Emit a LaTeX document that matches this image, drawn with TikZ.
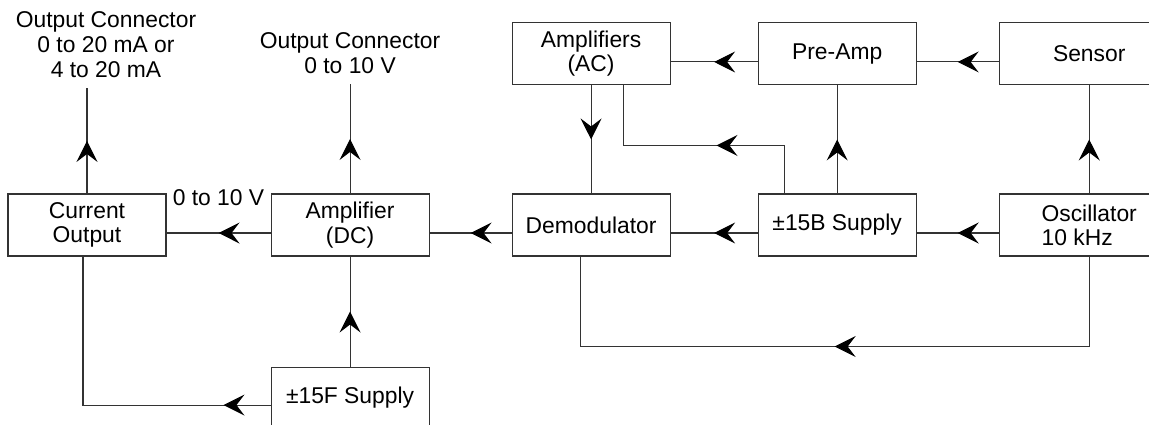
\documentclass[tikz,border=0pt]{standalone}
\usepackage{fontspec}
\setmainfont{Liberation Sans}
\usetikzlibrary{arrows.meta, positioning, decorations.markings}

\begin{document}
\begin{tikzpicture}[
    node distance=2.16cm and 1.64cm,
    block/.style={draw=black!80, rectangle, minimum height=1.24cm, minimum width=3.16cm, inner sep=0pt, align=center, line width=0.6pt, font=\fontsize{13}{13.8}\selectfont},
    wideblock/.style={block, minimum width=3.6cm},
    lbl/.style={inner sep=0pt, outer ysep=0.22cm, align=center, font=\fontsize{13}{14.2}\selectfont},
    tag/.style={inner sep=0pt, font=\fontsize{13}{13.8}\selectfont},
    flow/.style={line width=0.6pt, draw=black!80, decoration={markings, mark=at position #1 with {\arrow[black]{Stealth[length=0.42cm, width=0.42cm, inset=0.16cm]}}}, postaction={decorate}},
    flow/.default=0.5
]
    \useasboundingbox (-1.74,-3.98) rectangle (21.24,4.5);

    % Nodes
    \node (cur) [block] at (0,0) {Current\\Output};
    \node (ampdc) [block, right=2.08cm of cur] {Amplifier\\(DC)};
    \node (demod) [block, right=of ampdc] {Demodulator};
    \node (bsup) [block, right=1.74cm of demod] {±15B Supply};
    \node (osc) [wideblock, right=of bsup, align=left] {Oscillator\\10 kHz};
    \node (ampac) [block, above=of demod] {Amplifiers\\(AC)};
    \node (preamp) [block, above=of bsup] {Pre-Amp};
    \node (sensor) [wideblock, above=of osc] {Sensor};
    \node (fsup) [block, below=2.2cm of ampdc] {±15F Supply};
    \node (outI) [lbl, above=2.1cm of cur, xshift=0.38cm] {Output Connector\\0 to 20 mA or\\4 to 20 mA};
    \node (outV) [lbl, above=2.18cm of ampdc] {Output Connector\\0 to 10 V};

    % Connectors
    \draw [flow] ([yshift=-0.16cm]sensor.west) -- ([yshift=-0.16cm]preamp.east);
    \draw [flow] ([yshift=-0.16cm]preamp.west) -- ([yshift=-0.16cm]ampac.east);
    \draw [flow] (ampac) -- (demod);
    \draw [flow] (osc) -- (sensor);
    \draw [flow] (bsup) -- (preamp);
    \draw [flow=0.43] ([xshift=-1.06cm]bsup.north) -- ++(0,0.96) -| ([xshift=0.64cm]ampac.south);
    \draw [flow] ([yshift=-0.16cm]osc.west) -- ([yshift=-0.16cm]bsup.east);
    \draw [flow] ([yshift=-0.16cm]bsup.west) -- ([yshift=-0.16cm]demod.east);
    \draw [flow] ([yshift=-0.16cm]demod.west) -- ([yshift=-0.16cm]ampdc.east);
    \draw [flow] ([yshift=-0.16cm]ampdc.west) -- node [tag, above=0.54cm] {0 to 10 V} ([yshift=-0.16cm]cur.east);
    \draw [flow] (cur) -- (cur |- outI.south);
    \draw [flow] (ampdc) -- (outV);
    \draw [flow] (fsup) -- (ampdc);
    \draw [flow=0.14] ([yshift=-0.14cm]fsup.west) -| ([xshift=-0.08cm]cur.south);
    \draw [flow] (osc.south) -- ++(0,-1.8) -| ([xshift=-0.22cm]demod.south);
\end{tikzpicture}
\end{document}
